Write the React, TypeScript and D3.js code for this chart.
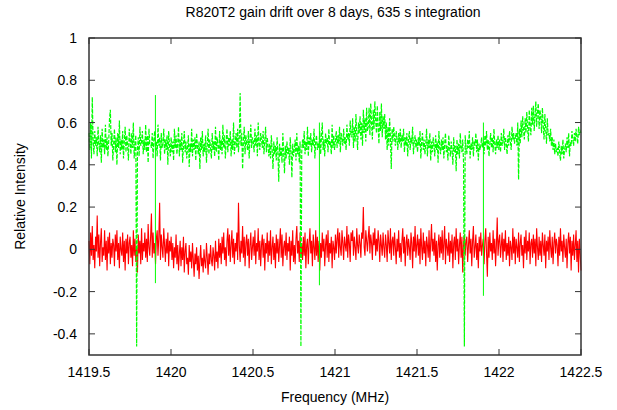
import React from 'react';
import * as d3 from 'd3';

// spectrum channels span 1419.5 .. 1422.5 MHz
const freqStart = 1419.5;
const freqStop = 1422.5;

// green: first run (dashed)
const greenValues = [
  .55,.47,.60,.43,.72,.51,.45,.56,.49,.53,
  .44,.58,.50,.46,.54,.41,.57,.48,.52,.45,
  .59,.47,.53,.44,.51,.62,.66,.49,.55,.42,
  .50,.57,.46,.53,.40,.55,.48,.61,.45,.52,
  .47,.56,.43,.51,.58,.46,.54,.49,.42,.57,
  .52,.45,.55,.48,.60,.43,.50,.54,-.46,.47,
  .53,.44,.58,.49,.51,.56,.45,.52,.47,.59,
  .46,.54,.41,.57,.50,.50,.48,.55,.43,.52,
  .56,.47,.51,.44,.59,.49,.53,.42,.55,.48,
  .50,.57,.45,.52,.47,.54,.40,.56,.49,.44,
  .53,.46,.51,.42,.57,.48,.54,.45,.50,.58,
  .44,.52,.47,.55,.41,.49,.56,.46,.51,.43,
  .48,.54,.39,.50,.46,.57,.44,.52,.47,.53,
  .42,.55,.49,.45,.51,.38,.53,.47,.56,.44,
  .50,.46,.54,.41,.49,.57,.45,.52,.48,.43,
  .55,.47,.51,.44,.58,.46,.53,.49,.42,.56,
  .47,.52,.45,.59,.48,.54,.43,.51,.57,.46,
  .53,.49,.56,.44,.52,.47,.60,.45,.50,.55,
  .48,.57,.46,.53,.74,.49,.55,.38,.51,.58,
  .45,.54,.50,.47,.56,.43,.52,.59,.48,.53,
  .51,.46,.57,.49,.54,.44,.60,.50,.47,.55,
  .52,.48,.56,.45,.51,.58,.46,.53,.49,.44,
  .50,.43,.54,.47,.38,.51,.45,.49,.42,.53,
  .46,.32,.50,.44,.48,.41,.55,.46,.36,.49,
  .43,.51,.45,.48,.40,.53,.46,.34,.50,.44,
  .47,.52,.42,.55,.45,.49,.41,.51,-.46,.46,
  .52,.48,.56,.45,.51,.47,.58,.44,.53,.49,
  .55,.46,.52,.49,.57,.43,.51,.54,.47,.50,
  .48,.56,.45,.53,.60,.47,.52,.44,.55,.50,
  .53,.46,.57,.49,.51,.45,.59,.48,.54,.47,
  .51,.56,.48,.54,.50,.58,.46,.55,.52,.49,
  .57,.50,.53,.47,.59,.52,.55,.49,.61,.54,
  .53,.62,.48,.58,.51,.64,.54,.47,.60,.55,
  .63,.52,.60,.49,.66,.55,.62,.51,.67,.56,
  .58,.67,.54,.69,.60,.52,.66,.57,.70,.61,
  .55,.68,.58,.50,.65,.56,.69,.53,.63,.57,
  .64,.52,.60,.47,.58,.49,.62,.53,.38,.57,
  .51,.58,.53,.49,.56,.52,.47,.55,.50,.57,
  .48,.54,.51,.57,.46,.53,.49,.55,.44,.52,
  .56,.47,.53,.50,.58,.45,.51,.54,.48,.52,
  .46,.53,.49,.56,.43,.51,.55,.47,.52,.45,
  .50,.57,.44,.52,.48,.55,.42,.51,.46,.53,
  .49,.44,.54,.47,.51,.41,.56,.48,.45,.52,
  .47,.53,.43,.50,.55,.46,.49,.42,.54,.48,
  .44,.51,.47,.40,.53,.46,.49,.37,.52,.45,
  .50,.43,.55,.48,.46,.52,.41,-.46,.54,.47,
  .45,.52,.48,.56,.43,.50,.47,.53,.44,.51,
  .49,.55,.46,.52,.42,.50,.47,.49,.53,.48,
  .51,.45,.54,.49,.56,.47,.52,.44,.50,.55,
  .48,.53,.46,.57,.50,.45,.52,.48,.54,.47,
  .52,.46,.55,.49,.51,.57,.47,.53,.50,.45,
  .54,.49,.56,.51,.47,.58,.52,.55,.50,.53,
  .55,.49,.60,.33,.57,.50,.61,.53,.63,.56,
  .52,.62,.55,.65,.57,.51,.66,.58,.54,.67,
  .59,.68,.56,.63,.70,.58,.65,.69,.57,.66,
  .63,.55,.67,.59,.52,.64,.57,.50,.62,.54,
  .55,.51,.57,.49,.53,.47,.52,.45,.50,.46,
  .48,.44,.51,.46,.42,.49,.45,.52,.43,.47,
  .50,.46,.53,.48,.55,.44,.51,.49,.56,.52,
  .49,.55,.51,.57,.53,.50,.58,.54,.56,.55,
];

// red: ratio after 8 days
const redValues = [
  .04,-.07,.08,-.03,.11,-.05,.02,-.09,.06,-.01,
  .16,-.04,.07,-.08,.03,.10,-.06,.01,-.03,.09,
  -.05,.04,-.10,.06,-.02,.08,-.07,.03,-.04,.05,
  .02,-.08,.07,-.01,.09,-.05,.03,-.09,.06,.00,
  -.03,.08,-.06,.04,-.10,.05,-.02,.07,-.07,.03,
  .06,-.04,.02,-.08,.09,-.03,.05,-.06,.01,-.11,
  .07,-.02,.04,-.07,.10,-.05,.03,-.01,.08,-.04,
  .05,-.06,.12,.01,-.03,.06,.17,-.04,.08,-.02,
  .03,-.07,.05,.09,-.03,.06,.22,-.05,.07,.01,
  -.04,.10,.02,-.06,.05,-.02,.08,-.08,.04,-.01,
  .06,-.05,.03,-.09,.01,-.04,.07,-.07,.02,-.10,
  -.02,.04,-.08,.01,-.05,.06,-.11,-.01,.03,-.07,
  -.04,-.12,.02,-.06,-.01,-.09,.03,-.05,-.13,-.02,
  -.07,.01,-.10,-.03,-.14,-.05,.02,-.08,-.04,-.11,
  .00,-.06,-.09,.03,-.04,-.12,-.02,-.07,.02,-.05,
  -.08,.01,-.03,-.10,.04,-.06,-.01,-.09,.05,-.04,
  .03,-.07,.06,-.02,.08,-.05,.01,-.08,.04,.10,
  -.03,.07,-.06,.02,.09,-.04,.05,-.07,.03,-.01,
  .08,-.05,.22,.02,-.06,.04,-.02,.11,-.04,.06,
  -.08,.03,.07,-.03,.05,-.09,.02,.08,-.05,.01,
  .06,-.03,.09,-.07,.03,-.01,.10,-.05,.04,-.08,
  .02,.07,-.04,.05,-.10,.03,-.02,.08,-.06,.04,
  -.03,.09,-.07,.01,.06,-.05,.03,-.09,.07,-.02,
  .05,-.06,.02,.10,-.04,.07,-.08,.01,.04,-.03,
  .08,-.05,.03,-.01,.06,-.10,.04,-.03,.09,-.06,
  .02,-.07,.05,.11,-.02,.04,-.06,.08,-.04,.03,
  -.05,.06,-.03,.08,-.09,.02,.05,-.07,.03,.10,
  -.02,.04,-.08,.07,.01,-.05,.09,-.03,.06,-.06,
  .04,-.10,.03,-.04,.08,-.01,.05,-.08,.02,.07,
  -.04,.09,-.06,.03,-.02,.06,-.09,.04,.01,-.05,
  .07,-.02,.05,.10,-.04,.08,.01,-.03,.09,.03,
  -.05,.06,.02,-.01,.11,-.04,.07,.03,-.06,.08,
  .04,.09,-.03,.06,.01,-.05,.10,.02,-.02,.07,
  .03,-.04,.08,.05,.20,.01,-.03,.09,.04,-.01,
  .06,.11,-.02,.07,.03,-.05,.08,.02,.10,-.03,
  .05,-.01,.09,.04,-.06,.07,.02,-.03,.08,.01,
  -.04,.07,.02,-.06,.09,.03,-.02,.10,-.05,.04,
  .06,-.03,.08,.01,-.07,.05,-.01,.09,-.04,.03,
  -.06,.04,.10,-.02,.06,-.08,.03,.07,-.03,.05,
  .01,-.05,.08,.03,-.09,.06,-.01,.11,-.04,.02,
  .07,-.03,.05,-.07,.10,.01,-.05,.08,-.02,.04,
  -.08,.06,.02,-.04,.09,-.06,.03,.12,-.01,.05,
  -.03,.08,-.06,.04,-.10,.02,.07,-.04,.06,-.02,
  .09,-.05,.03,.11,-.07,.05,.01,-.03,.08,-.06,
  .04,-.02,.07,-.09,.03,.06,-.05,.10,-.01,.05,
  -.07,.02,.08,-.04,.06,-.11,.03,.07,-.03,.04,
  .06,-.06,.02,.09,-.02,.05,-.08,.04,.11,-.04,
  .01,.07,-.05,.03,-.09,.06,-.01,.08,-.03,.02,
  .05,-.07,.04,.10,-.02,-.13,.06,-.04,.08,-.01,
  .03,-.05,.09,-.02,.05,-.08,.02,.15,-.03,.04,
  .07,-.04,.02,.08,-.06,.05,-.01,.09,-.05,.03,
  -.03,.06,-.08,.04,.01,-.05,.10,-.02,.06,-.07,
  .05,.01,-.04,.08,-.06,.03,.07,-.03,.02,-.09,
  .06,-.02,.09,-.05,.04,-.01,.08,-.07,.03,.05,
  -.04,.07,-.02,.05,-.08,.10,.01,-.05,.06,-.03,
  .04,-.06,.08,.02,-.03,.07,-.09,.04,-.01,.06,
  -.05,.09,.01,-.04,.06,-.07,.03,.08,-.02,.05,
  .02,-.08,.06,-.03,.10,-.01,.04,-.06,.07,.01,
  -.04,.05,-.09,.03,.08,-.02,.06,-.10,.04,-.03,
  .07,-.05,.02,.09,-.06,.04,-.11,.05,-.02,-.10,
];

// solid green glitches
const glitchFreqs = [1419.905, 1420.905, 1421.905];
const glitchTop = [0.73, 0.6, 0.6];
const glitchBottom = [-0.16, -0.17, -0.22];

const xTicks = [1419.5, 1420, 1420.5, 1421, 1421.5, 1422, 1422.5];
const yTicks = [-0.4, -0.2, 0, 0.2, 0.4, 0.6, 0.8, 1];

const width = 617;
const height = 410;
const margin = { top: 38, right: 36, bottom: 55, left: 89 };
const font = '"Liberation Sans", Arial, sans-serif';

export default function App() {
  const x = d3.scaleLinear().domain([freqStart, freqStop]).range([margin.left, width - margin.right]);
  const y = d3.scaleLinear().domain([-0.5, 1]).range([height - margin.bottom, margin.top]);

  const lineFor = (vals: number[]) => {
    const step = (freqStop - freqStart) / (vals.length - 1);
    return d3.line<number>()
      .x((_, i) => x(freqStart + i * step))
      .y(d => y(d))(vals) || '';
  };

  const x0 = margin.left, x1 = width - margin.right;
  const y0 = margin.top, y1 = height - margin.bottom;
  const tick = 6;

  return (
    <svg width={width} height={height} style={{ position: 'absolute', left: 0, top: 0, background: '#fff' }}
      fontFamily={font} fontSize={14}>
      <text x={(x0 + x1) / 2 - 2} y={17} textAnchor="middle">R820T2 gain drift over 8 days, 635 s integration</text>

      <path d={lineFor(redValues)} fill="none" stroke="#ff0000" strokeWidth={1.1} />
      <path d={lineFor(greenValues)} fill="none" stroke="#00ff00" strokeWidth={1.2} strokeDasharray="4,1.5" />
      {glitchFreqs.map((f, i) => (
        <line key={i} x1={x(f)} x2={x(f)} y1={y(glitchTop[i])} y2={y(glitchBottom[i])} stroke="#00ff00" strokeWidth={1} />
      ))}

      {xTicks.map(t => (
        <g key={'x' + t}>
          <line x1={x(t)} x2={x(t)} y1={y1} y2={y1 - tick} stroke="#333" />
          <line x1={x(t)} x2={x(t)} y1={y0} y2={y0 + tick} stroke="#333" />
          <text x={x(t)} y={y1 + 22} textAnchor="middle">{t}</text>
        </g>
      ))}
      {yTicks.map(t => (
        <g key={'y' + t}>
          <line x1={x0} x2={x0 + tick} y1={y(t)} y2={y(t)} stroke="#333" />
          <line x1={x1} x2={x1 - tick} y1={y(t)} y2={y(t)} stroke="#333" />
          <text x={x0 - 12} y={y(t) + 5} textAnchor="end">{t}</text>
        </g>
      ))}
      <rect x={x0} y={y0} width={x1 - x0} height={y1 - y0} fill="none" stroke="#333" strokeWidth={1.5} />

      <text x={(x0 + x1) / 2} y={y1 + 47} textAnchor="middle">Frequency (MHz)</text>
      <text transform={`translate(25,${(y0 + y1) / 2}) rotate(-90)`} textAnchor="middle">Relative Intensity</text>
    </svg>
  );
}
